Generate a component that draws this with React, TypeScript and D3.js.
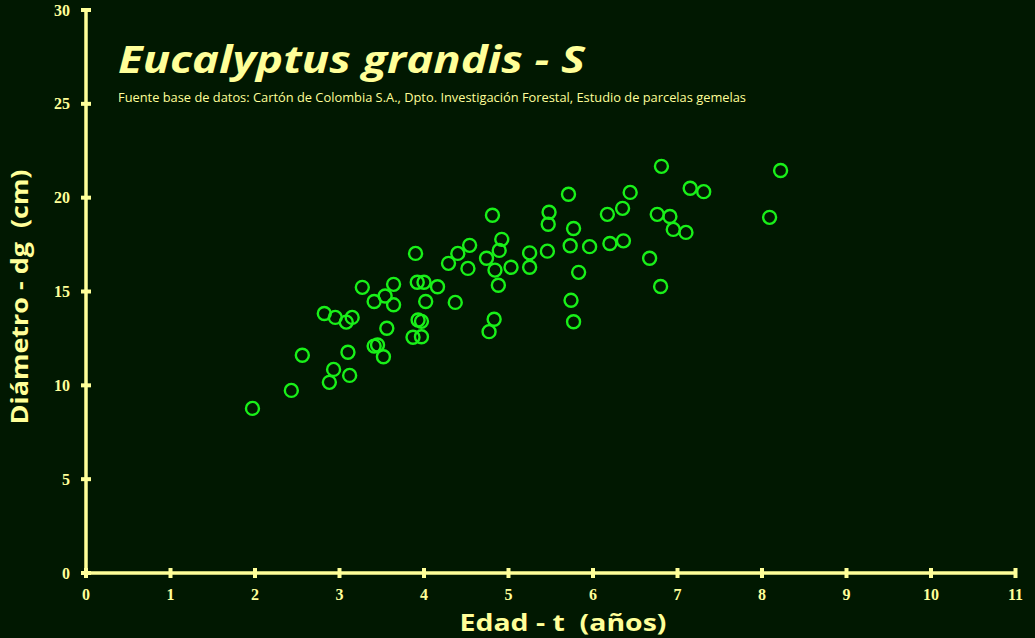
import React from "react";
import * as d3 from "d3";

// Age (years) and quadratic mean diameter (cm) per plot
const edad: number[] = [
  1.97, 2.43, 2.56, 2.82, 2.95, 2.88, 2.93, 3.08, 3.15, 3.10,
  3.12, 3.27, 3.41, 3.41, 3.45, 3.52, 3.56, 3.54, 3.64, 3.64,
  3.90, 3.92, 4.00, 3.93, 3.97, 3.87, 3.97, 4.02, 4.16, 4.29,
  4.40, 4.37, 4.54, 4.52, 4.74, 4.81, 4.84, 4.89, 4.92, 4.88,
  4.83, 4.77, 5.03, 5.25, 5.25, 5.46, 5.48, 5.47, 5.71, 5.73,
  5.77, 5.83, 5.74, 5.77, 5.96, 6.17, 6.20, 6.35, 6.36, 6.44,
  6.67, 6.76, 6.81, 6.80, 6.91, 6.95, 7.10, 7.15, 7.31, 8.09,
  8.22,
];
const diametro: number[] = [
  8.77, 9.73, 11.60, 13.83, 13.62, 10.16, 10.85, 13.37, 13.62, 11.76,
  10.53, 15.22, 14.47, 12.09, 12.15, 11.52, 13.04, 14.76, 15.38, 14.29,
  17.03, 15.49, 15.49, 13.48, 13.41, 12.56, 12.59, 14.47, 15.25, 16.50,
  17.03, 14.42, 17.46, 16.23, 16.77, 19.06, 16.14, 17.19, 17.78, 15.33,
  13.52, 12.86, 16.29, 17.06, 16.29, 17.15, 19.22, 18.58, 20.18, 17.44,
  18.36, 16.02, 14.53, 13.39, 17.39, 19.11, 17.56, 19.43, 17.70, 20.28,
  16.77, 19.11, 21.67, 15.27, 19.00, 18.31, 18.15, 20.50, 20.32, 18.95,
  21.45,
];

const xTicks: number[] = d3.range(0, 12);
const yTicks: number[] = d3.range(0, 31, 5);

const title = "Eucalyptus grandis - S";
const subtitle =
  "Fuente base de datos: Cartón de Colombia S.A., Dpto. Investigación Forestal, Estudio de parcelas gemelas";
const xLabel = "Edad - t  (años)";
const yLabel = "Diámetro - dg  (cm)";

const W = 1035;
const H = 638;
const BG = "#011801";
const AXIS = "#ffff99";
const DOT = "#19f019";

export default function App() {
  const x = d3.scaleLinear().domain([0, 11]).range([86, 1015.5]);
  const y = d3.scaleLinear().domain([0, 30]).range([573, 10]);
  const points = edad.map((e, i) => ({ e, d: diametro[i] }));

  return (
    <svg
      width={W}
      height={H}
      style={{ position: "absolute", left: 0, top: 0, display: "block" }}
    >
      <rect x={0} y={0} width={W} height={H} fill={BG} />

      {/* Y axis */}
      <line x1={x(0)} x2={x(0)} y1={y(30)} y2={y(0)} stroke={AXIS} strokeWidth={3.5} />
      {yTicks.map((t) => (
        <g key={`y${t}`}>
          <line x1={x(0) - 5} x2={x(0) + 5} y1={y(t)} y2={y(t)} stroke={AXIS} strokeWidth={4} />
          <text
            x={70}
            y={y(t)}
            dy="0.35em"
            textAnchor="end"
            fill={AXIS}
            fontFamily="'Liberation Serif', 'DejaVu Serif', serif"
            fontWeight="bold"
            fontSize={16}
          >
            {t}
          </text>
        </g>
      ))}

      {/* X axis */}
      <line x1={x(0)} x2={x(11)} y1={y(0)} y2={y(0)} stroke={AXIS} strokeWidth={3.5} />
      {xTicks.map((t) => (
        <g key={`x${t}`}>
          <line x1={x(t)} x2={x(t)} y1={y(0) - 5} y2={y(0) + 5} stroke={AXIS} strokeWidth={4} />
          <text
            x={x(t)}
            y={600}
            textAnchor="middle"
            fill={AXIS}
            fontFamily="'Liberation Serif', 'DejaVu Serif', serif"
            fontWeight="bold"
            fontSize={16}
          >
            {t}
          </text>
        </g>
      ))}

      {/* Observations */}
      {points.map((p, i) => (
        <circle
          key={i}
          cx={x(p.e)}
          cy={y(p.d)}
          r={6.5}
          fill="none"
          stroke={DOT}
          strokeWidth={2.4}
        />
      ))}

      {/* Titles */}
      <text
        x={118}
        y={73}
        fill={AXIS}
        fontFamily="'Open Sans', 'Liberation Sans', sans-serif"
        fontWeight="bold"
        fontStyle="italic"
        fontSize={38}
        textLength={467}
        lengthAdjust="spacingAndGlyphs"
      >
        {title}
      </text>
      <text
        x={118}
        y={102}
        fill={AXIS}
        fontFamily="'Open Sans', 'Liberation Sans', sans-serif"
        fontSize={12}
        textLength={628}
        lengthAdjust="spacingAndGlyphs"
      >
        {subtitle}
      </text>

      <text
        x={563}
        y={631}
        textAnchor="middle"
        fill={AXIS}
        fontFamily="'Open Sans', 'Liberation Sans', sans-serif"
        fontWeight="bold"
        fontSize={24}
        textLength={207}
        lengthAdjust="spacingAndGlyphs"
        style={{ whiteSpace: "pre" }}
      >
        {xLabel}
      </text>
      <text
        transform={`translate(28, 297) rotate(-90)`}
        textAnchor="middle"
        fill={AXIS}
        fontFamily="'Open Sans', 'Liberation Sans', sans-serif"
        fontWeight="bold"
        fontSize={24}
        textLength={255}
        lengthAdjust="spacingAndGlyphs"
        style={{ whiteSpace: "pre" }}
      >
        {yLabel}
      </text>
    </svg>
  );
}
